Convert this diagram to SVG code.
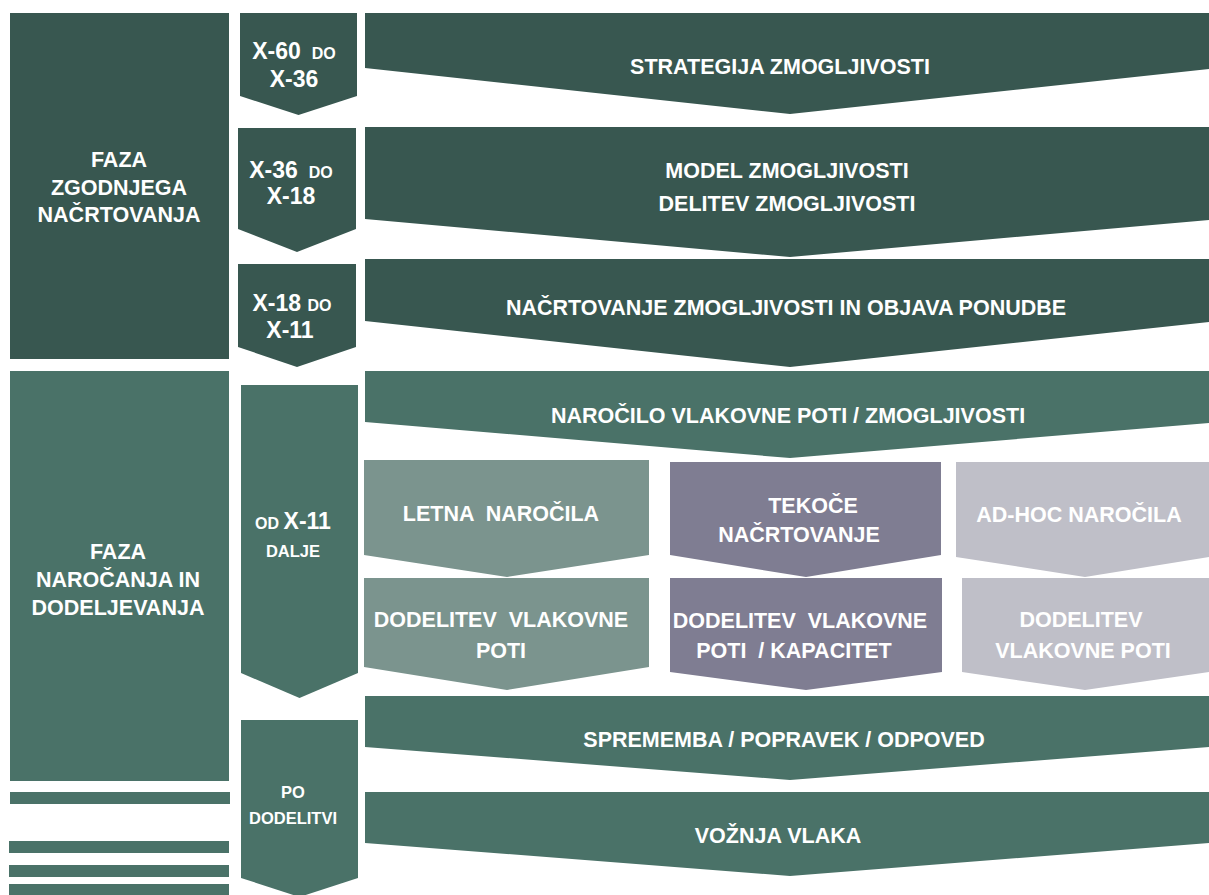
<svg xmlns="http://www.w3.org/2000/svg" width="1209" height="895" viewBox="0 0 1209 895">
<style>
.d{fill:#385750}
.m{fill:#4A7268}
.g{fill:#7B948E}
.p{fill:#7F7D92}
.l{fill:#BFBFC8}
text{font-family:"Liberation Sans",Arial,sans-serif;font-weight:bold;fill:#fff;text-anchor:middle;white-space:pre}
.t{font-size:21.5px}
.x{font-size:23px}
.s{font-size:16px}
.s2{font-size:16.5px}
</style>
<rect width="1209" height="895" fill="#fff"/>
<g id="phase1"><rect class="d" x="10" y="13" width="219" height="346"/>
<text class="t" x="119" y="167">FAZA</text><text class="t" x="119" y="195">ZGODNJEGA</text><text class="t" x="119" y="222">NAČRTOVANJA</text></g>
<g id="phase2"><rect class="m" x="10" y="371" width="219" height="410"/>
<text class="t" x="118" y="559">FAZA</text><text class="t" x="118" y="587">NAROČANJA IN</text><text class="t" x="118" y="615">DODELJEVANJA</text></g>
<g id="stripes"><rect class="m" x="10" y="792" width="220" height="12"/><rect class="m" x="9" y="841" width="220" height="12"/><rect class="m" x="9" y="865" width="220" height="12"/><rect class="m" x="9" y="884" width="220" height="12"/></g>
<g id="t1"><polygon class="d" points="240,13 357,13 357,96 298.5,115 240,96"/><text x="294" y="59"><tspan class="x">X-60 </tspan><tspan class="s"> DO</tspan></text><text class="x" x="294" y="87">X-36</text></g>
<g id="t2"><polygon class="d" points="238,128 356,128 356,229 297,252 238,229"/><text x="291" y="178"><tspan class="x">X-36 </tspan><tspan class="s"> DO</tspan></text><text class="x" x="291" y="204">X-18</text></g>
<g id="t3"><polygon class="d" points="238,264 356,264 356,347 297,367 238,347"/><text x="292" y="311"><tspan class="x">X-18 </tspan><tspan class="s">DO</tspan></text><text class="x" x="290" y="338">X-11</text></g>
<g id="t4"><polygon class="m" points="241,385 358,385 358,673 299.5,698 241,673"/><text x="293" y="529"><tspan class="s">OD </tspan><tspan class="x">X-11</tspan></text><text class="s2" x="293" y="557">DALJE</text></g>
<g id="t5"><polygon class="m" points="241,720 358,720 358,878 299.5,897 241,878"/><text class="s2" x="293" y="798">PO</text><text class="s2" x="293" y="824">DODELITVI</text></g>
<g id="a1"><polygon class="d" points="365,13 1209,13 1209,69 790,114 365,68"/><text class="t" x="780" y="74">STRATEGIJA ZMOGLJIVOSTI</text></g>
<g id="a2"><polygon class="d" points="365,127 1209,127 1209,220 790,257 365,219"/><text class="t" x="787" y="178">MODEL ZMOGLJIVOSTI</text><text class="t" x="787" y="211">DELITEV ZMOGLJIVOSTI</text></g>
<g id="a3"><polygon class="d" points="365,259 1209,259 1209,322 790,367 365,321"/><text class="t" x="786" y="315">NAČRTOVANJE ZMOGLJIVOSTI IN OBJAVA PONUDBE</text></g>
<g id="a4"><polygon class="m" points="365,371 1209,371 1209,423 790,458 365,422"/><text class="t" x="788" y="423">NAROČILO VLAKOVNE POTI / ZMOGLJIVOSTI</text></g>
<g id="b1"><polygon class="g" points="364,460 649,460 649,555 507,577 364,555"/><text class="t" x="501" y="521">LETNA  NAROČILA</text></g>
<g id="b2"><polygon class="p" points="670,462 941,462 941,555 806,577 670,555"/><text class="t" x="813" y="513">TEKOČE</text><text class="t" x="799" y="542">NAČRTOVANJE</text></g>
<g id="b3"><polygon class="l" points="956,462 1209,462 1209,557 1085,577 956,557"/><text class="t" x="1079" y="522">AD-HOC NAROČILA</text></g>
<g id="c1"><polygon class="g" points="364,578 649,578 649,667 507,690 364,667"/><text class="t" x="501" y="627">DODELITEV  VLAKOVNE</text><text class="t" x="501" y="658">POTI</text></g>
<g id="c2"><polygon class="p" points="670,578 942,578 942,672 806,690 670,672"/><text class="t" x="800" y="628">DODELITEV  VLAKOVNE</text><text class="t" x="794" y="658">POTI  / KAPACITET</text></g>
<g id="c3"><polygon class="l" points="962,578 1209,578 1209,672 1085,690 962,672"/><text class="t" x="1081" y="627">DODELITEV</text><text class="t" x="1083" y="658">VLAKOVNE POTI</text></g>
<g id="a5"><polygon class="m" points="365,696 1209,696 1209,747 790,780 365,747"/><text class="t" x="784" y="747">SPREMEMBA / POPRAVEK / ODPOVED</text></g>
<g id="a6"><polygon class="m" points="365,792 1209,792 1209,843 790,876 365,843"/><text class="t" x="778" y="843">VOŽNJA VLAKA</text></g>
<g id="connectors"></g>
</svg>
